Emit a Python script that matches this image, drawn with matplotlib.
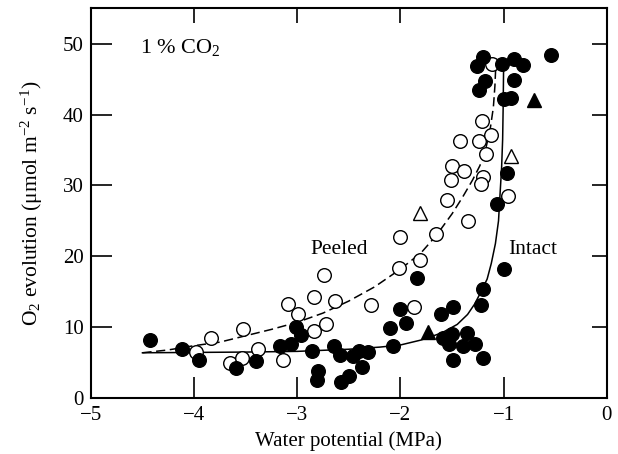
import matplotlib
matplotlib.use("Agg")
import matplotlib.pyplot as plt

plt.rcParams['font.family'] = ['Liberation Serif', 'DejaVu Serif']
plt.rcParams['mathtext.fontset'] = 'custom'
plt.rcParams['mathtext.rm'] = 'Liberation Serif'
plt.rcParams['mathtext.it'] = 'Liberation Serif:italic'

# intact leaves (filled circles)
intact_x = [-4.43, -4.12, -3.95, -3.59, -3.40, -3.17, -3.06, -3.01, -2.96, -2.86,
            -2.80, -2.81, -2.64, -2.59, -2.46, -2.40, -2.31, -2.37, -2.50, -2.58,
            -2.10, -2.07, -2.00, -1.95, -1.84, -1.61, -1.49, -1.59, -1.50, -1.53,
            -1.36, -1.39, -1.28, -1.49, -1.20, -1.20, -1.22, -1.00, -1.06, -0.97,
            -1.00, -0.93, -0.90, -1.18, -1.24, -1.20, -1.26, -1.02, -0.90, -0.81,
            -0.54]
intact_y = [8.2, 6.9, 5.4, 4.2, 5.3, 7.3, 7.7, 10.0, 8.9, 6.7,
            3.9, 2.5, 7.3, 6.1, 5.9, 6.7, 6.5, 4.4, 3.1, 2.3,
            9.9, 7.3, 12.6, 10.6, 16.9, 11.9, 12.9, 8.5, 9.0, 7.7,
            9.2, 7.3, 7.6, 5.4, 5.7, 15.4, 13.1, 18.2, 27.4, 31.8,
            42.2, 42.3, 44.8, 44.7, 43.5, 48.1, 46.9, 47.1, 47.9, 47.0,
            48.4]

# peeled leaves (open circles)
peeled_x = [-3.98, -3.84, -3.53, -3.65, -3.54, -3.38, -3.14, -3.09, -2.99, -2.84,
            -2.74, -2.63, -2.84, -2.72, -2.29, -2.01, -2.00, -1.87, -1.81, -1.66,
            -1.55, -1.35, -1.50, -1.38, -1.51, -1.20, -1.22, -1.42, -1.24, -1.12,
            -1.17, -1.21, -0.96, -1.11]
peeled_y = [6.5, 8.5, 9.8, 4.9, 5.6, 7.0, 5.4, 13.3, 11.8, 14.3,
            17.3, 13.7, 9.5, 10.4, 13.2, 18.4, 22.7, 12.9, 19.5, 23.1,
            28.0, 25.0, 32.7, 32.0, 30.7, 31.2, 30.2, 36.3, 36.3, 37.1,
            34.5, 39.1, 28.5, 47.1]

# triangles
tri_filled_x = [-1.73, -0.71]
tri_filled_y = [9.3, 42.0]
tri_open_x = [-1.81, -0.93]
tri_open_y = [26.1, 34.2]

# fitted curves
intact_fit_x = [-4.5, -4.0, -3.5, -3.0, -2.5, -2.2, -2.0, -1.8, -1.6, -1.45,
                -1.35, -1.28, -1.22, -1.16, -1.12, -1.08, -1.05, -1.035, -1.02,
                -1.01, -1.005, -1.0]
intact_fit_y = [6.4, 6.45, 6.5, 6.6, 6.9, 7.2, 7.5, 8.2, 9.2, 10.4,
                11.8, 13.3, 15.0, 16.8, 19.0, 21.8, 25.0, 28.8, 32.5,
                36.5, 41.0, 47.5]
peeled_fit_x = [-4.5, -4.25, -4.0, -3.75, -3.5, -3.25, -3.0, -2.75, -2.5, -2.25,
                -2.0, -1.8, -1.65, -1.5, -1.4, -1.3, -1.23, -1.17, -1.13, -1.10,
                -1.085, -1.075]
peeled_fit_y = [6.4, 6.8, 7.4, 7.9, 8.8, 9.7, 10.7, 12.0, 13.7, 15.7,
                18.2, 20.5, 23.0, 26.0, 28.3, 30.8, 32.8, 35.4, 38.0, 41.0,
                44.0, 47.3]

fig = plt.figure(figsize=(6.18, 4.54), dpi=100)
ax = fig.add_axes([0.147, 0.123, 0.835, 0.859])

ax.plot(intact_fit_x, intact_fit_y, color='black', lw=1.1, zorder=2)
ax.plot(peeled_fit_x, peeled_fit_y, color='black', lw=1.1, ls=(0, (6, 3)), zorder=2)

ms = 9.8
ax.plot(peeled_x, peeled_y, 'o', ms=ms, mfc='white', mec='black', mew=1.0, zorder=3)
ax.plot(intact_x, intact_y, 'o', ms=ms, mfc='black', mec='black', mew=1.0, zorder=4)
ax.plot(tri_filled_x, tri_filled_y, '^', ms=ms, mfc='black', mec='black', zorder=4)
ax.plot(tri_open_x, tri_open_y, '^', ms=ms, mfc='white', mec='black', mew=1.0, zorder=4)

ax.text(-4.52, 49.4, '1 % CO$_2$', fontsize=16, va='center', ha='left')
ax.text(-2.87, 21.0, 'Peeled', fontsize=15.5, va='center', ha='left')
ax.text(-0.96, 21.0, 'Intact', fontsize=15.5, va='center', ha='left')

ax.set_xlim(-5, 0)
ax.set_ylim(0, 55)
ax.set_xticks([-5, -4, -3, -2, -1, 0])
ax.set_xticklabels(['\u22125', '\u22124', '\u22123', '\u22122', '\u22121', '0'])
ax.set_yticks([0, 10, 20, 30, 40, 50])
ax.tick_params(direction='in', length=15, width=1.2, top=True, right=True,
               labelsize=15)
ax.tick_params(axis='x', pad=6)
ax.tick_params(axis='y', pad=5)
# top/right ticks are shorter in the original
for t in ax.xaxis.get_major_ticks():
    t.tick2line.set_markersize(10.5)
for t in ax.yaxis.get_major_ticks():
    t.tick2line.set_markersize(10.5)
for s in ax.spines.values():
    s.set_linewidth(1.5)

ax.set_xlabel('Water potential (MPa)', fontsize=15, labelpad=4)
ax.set_ylabel('O$_2$ evolution (\u03bcmol m$^{\u22122}$ s$^{\u22121}$)', fontsize=15.5, labelpad=13)

fig.savefig('out.png', dpi=100)
